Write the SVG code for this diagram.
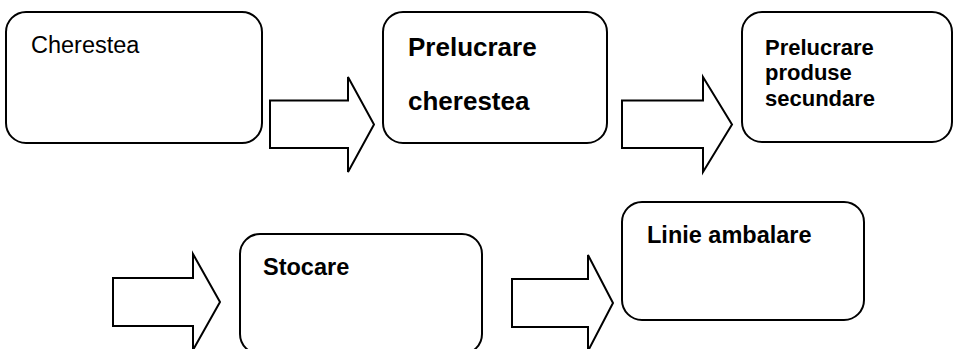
<svg xmlns="http://www.w3.org/2000/svg" width="955" height="349" viewBox="0 0 955 349">
<style>
.box{fill:#fff;stroke:#000;stroke-width:2}
.arr{fill:#fff;stroke:#000;stroke-width:2;stroke-linejoin:miter}
.t{font-family:"Liberation Sans",Arial,sans-serif;fill:#000}
.b{font-weight:bold}
</style>
<rect width="955" height="349" fill="#fff"/>
<g id="connectors">
<polygon class="arr" points="270,100.5 348,100.5 348,77 374,124.5 348,172 348,148 270,148"/>
<polygon class="arr" points="622,100.5 703,100.5 703,77 732,124.5 703,172 703,148 622,148"/>
<polygon class="arr" points="113,278 193,278 193,254 220,302 193,350 193,326 113,326"/>
<polygon class="arr" points="512,279 588,279 588,255 613,303 588,351 588,327 512,327"/>
</g>
<g id="n1">
<rect class="box" x="6" y="12" width="256" height="131" rx="20"/>
<text class="t" x="31" y="53" font-size="23.5">Cherestea</text>
</g>
<g id="n2">
<rect class="box" x="383" y="12" width="224" height="131" rx="20"/>
<text class="t b" x="408" y="56" font-size="26">Prelucrare</text>
<text class="t b" x="408" y="110" font-size="26">cherestea</text>
</g>
<g id="n3">
<rect class="box" x="742" y="12" width="210" height="130" rx="20"/>
<text class="t b" x="765" y="54.5" font-size="22">Prelucrare</text>
<text class="t b" x="765" y="80" font-size="22">produse</text>
<text class="t b" x="765" y="105.5" font-size="22">secundare</text>
</g>
<g id="n4">
<rect class="box" x="240" y="234" width="242" height="120" rx="20"/>
<text class="t b" x="263" y="275" font-size="23.5">Stocare</text>
</g>
<g id="n5">
<rect class="box" x="622" y="202" width="242" height="118" rx="20"/>
<text class="t b" x="647" y="243" font-size="23.5">Linie ambalare</text>
</g>
</svg>
